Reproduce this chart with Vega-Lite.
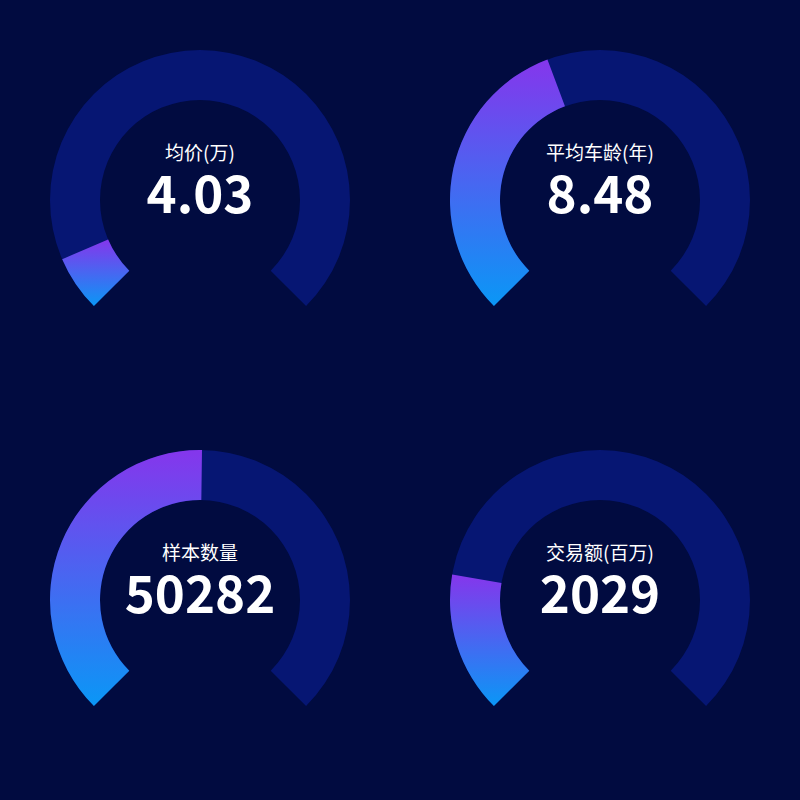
{
  "$schema": "https://vega.github.io/schema/vega-lite/v6.json",
  "background": "#010B40",
  "padding": 0,
  "spacing": 0,
  "columns": 2,
  "data": {
    "values": [
      {"order": 1, "name": "均价(万)", "value": 4.03, "max": 50},
      {"order": 2, "name": "平均车龄(年)", "value": 8.48, "max": 20},
      {"order": 3, "name": "样本数量", "value": 50282, "max": 100000},
      {"order": 4, "name": "交易额(百万)", "value": 2029, "max": 10000}
    ]
  },
  "facet": {
    "field": "name",
    "type": "nominal",
    "title": null,
    "header": {"labels": false, "title": null, "labelExpr": "''", "labelFontSize": 0, "labelPadding": 0, "titlePadding": 0},
    "sort": {"field": "order"}
  },
  "spec": {
    "width": 400,
    "height": 400,
    "layer": [
      {
        "mark": {"type": "arc", "radius": 150, "radius2": 100, "color": "#061673"},
        "encoding": {
          "theta": {"field": "max", "type": "quantitative", "stack": null, "scale": {"zero": true, "nice": false, "range": [-2.3562, 2.3562]}}
        }
      },
      {
        "mark": {
          "type": "arc",
          "radius": 150,
          "radius2": 100,
          "color": {
            "gradient": "linear",
            "x1": 0, "y1": 0, "x2": 0, "y2": 1,
            "stops": [
              {"offset": 0, "color": "#8536EC"},
              {"offset": 1, "color": "#0A97F6"}
            ]
          }
        },
        "encoding": {
          "theta": {"field": "value", "type": "quantitative", "stack": null}
        }
      },
      {
        "mark": {"type": "text", "color": "white", "font": "Noto Sans CJK SC", "fontSize": 19, "baseline": "middle", "dy": -46},
        "encoding": {"text": {"field": "name"}}
      },
      {
        "mark": {"type": "text", "color": "white", "font": "Noto Sans CJK SC", "fontWeight": "bold", "fontSize": 51, "baseline": "alphabetic", "dy": 13},
        "encoding": {"text": {"field": "value", "type": "quantitative", "format": "~r"}}
      }
    ]
  },
  "resolve": {"scale": {"theta": "independent"}},
  "config": {
    "view": {"stroke": null},
    "header": {"labels": false, "title": null, "labelFontSize": 0, "labelPadding": 0},
    "headerFacet": {"labels": false, "title": null, "labelFontSize": 0, "labelPadding": 0}
  }
}
